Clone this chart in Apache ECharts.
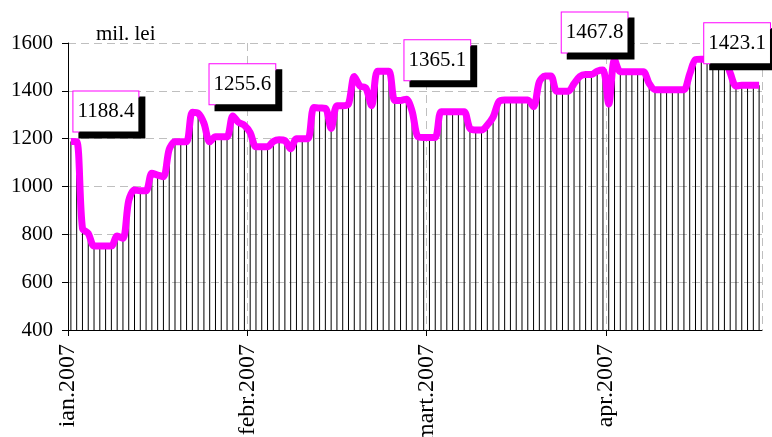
<!DOCTYPE html>
<html>
<head>
<meta charset="utf-8">
<script src="https://cdn.jsdelivr.net/npm/echarts@6/dist/echarts.min.js"></script>
<style>
html,body{margin:0;padding:0;background:#fff;}
#chart{width:772px;height:437px;}
</style>
</head>
<body>
<div id="chart"></div>
<script>
// Daily values, 1 Jan 2007 - 30 Apr 2007 (mil. lei)
const values = [
  1188.4, 1188, 825, 804, 751, 751, 751, 751, 793, 783,
  941, 985, 982, 982, 1055, 1048, 1041, 1155, 1187, 1187,
  1187, 1310, 1306, 1265, 1187, 1208, 1208, 1208, 1295, 1268,
  1255.6, 1225, 1166, 1166, 1166, 1188, 1195, 1192, 1158, 1200,
  1200, 1200, 1330, 1328, 1327, 1243, 1338, 1338, 1345, 1460,
  1420, 1412, 1338, 1482, 1482, 1482, 1360, 1360, 1365.1, 1315,
  1208, 1205, 1205, 1205, 1313, 1313, 1313, 1313, 1313, 1243,
  1236, 1236, 1257, 1290, 1355, 1362, 1362, 1362, 1362, 1362,
  1334, 1438, 1462, 1462, 1398, 1398, 1398, 1430, 1460, 1467.8,
  1468, 1482, 1487, 1345, 1530, 1480, 1480, 1480, 1480, 1480,
  1430, 1405, 1405, 1405, 1405, 1405, 1405, 1470, 1530, 1532,
  1532, 1532, 1532, 1532, 1475, 1420, 1423, 1423, 1423, 1423.1
];
const categories = values.map((v, i) => String(i));
const monthTickIdx = [0, 31, 62, 93];
const monthLabels = ['ian.2007', 'febr.2007', 'mart.2007', 'apr.2007'];
const yTicks = [400, 600, 800, 1000, 1200, 1400, 1600];
const annotIdx = [0, 30, 58, 89, 119];
const unitLabel = 'mil. lei';

const FONT = '"Liberation Serif", "Times New Roman", serif';
const labelOffsets = [[35, -30], [-2, -41], [31, -39], [9, -42], [-22, -42]];

const chart = echarts.init(document.getElementById('chart'), null, {renderer: 'canvas'});
chart.setOption({
  animation: false,
  backgroundColor: '#ffffff',
  title: {
    text: unitLabel, left: 91, top: 19,
    textStyle: {fontFamily: FONT, fontSize: 21, fontWeight: 'normal', color: '#000'}
  },
  grid: {left: 68, right: 10, top: 43, bottom: 107, containLabel: false, outerBoundsMode: 'none'},
  xAxis: [
    {
      type: 'category', data: categories, boundaryGap: true,
      axisLine: {show: true, lineStyle: {color: '#000', width: 1}},
      axisTick: {show: false}, axisLabel: {show: false}, splitLine: {show: false}
    },
    {
      type: 'value', min: 0, max: values.length, interval: 31, position: 'bottom',
      axisLine: {show: false},
      axisTick: {show: true, length: 6, lineStyle: {color: '#000'}},
      splitLine: {show: true, lineStyle: {color: '#bfbfbf', type: [8, 5], width: 1}},
      axisLabel: {
        show: true, rotate: 90, margin: 14, color: '#000',
        fontFamily: FONT, fontSize: 24,
        showMaxLabel: false,
        formatter: function (v) {
          const k = monthTickIdx.indexOf(Math.round(v));
          return k >= 0 ? monthLabels[k] : '';
        }
      }
    }
  ],
  yAxis: {
    type: 'value', min: yTicks[0], max: yTicks[yTicks.length - 1], interval: 200,
    axisLine: {show: true, lineStyle: {color: '#000', width: 1}},
    axisTick: {show: true, length: 6, inside: false, lineStyle: {color: '#000'}},
    axisLabel: {color: '#000', fontFamily: FONT, fontSize: 21, margin: 15,
      formatter: function (v) { return String(v); }},
    splitLine: {show: true, lineStyle: {color: '#bfbfbf', type: [8, 5], width: 1}}
  },
  series: [
    {
      type: 'bar', xAxisIndex: 0, data: values, barWidth: 1,
      itemStyle: {color: '#000'}, silent: true
    },
    {
      type: 'line', xAxisIndex: 0, data: values, smooth: 0.3,
      symbol: 'none',
      lineStyle: {color: '#ff00ff', width: 7},
      markPoint: {
        symbol: 'circle', symbolSize: 1,
        itemStyle: {color: 'rgba(0,0,0,0)'},
        label: {
          show: true, position: 'inside', align: 'center', verticalAlign: 'middle',
          fontFamily: FONT, fontSize: 21, color: '#000', lineHeight: 24,
          backgroundColor: '#fff', borderColor: '#ff00ff', borderWidth: 1,
          padding: [8, 4, 8, 4],
          shadowColor: '#000', shadowBlur: 0, shadowOffsetX: 6, shadowOffsetY: 6
        },
        data: annotIdx.map((idx, k) => ({
          coord: [idx, values[idx]],
          value: values[idx],
          label: {offset: labelOffsets[k], formatter: values[idx].toFixed(1)}
        }))
      }
    }
  ]
});
</script>
</body>
</html>
